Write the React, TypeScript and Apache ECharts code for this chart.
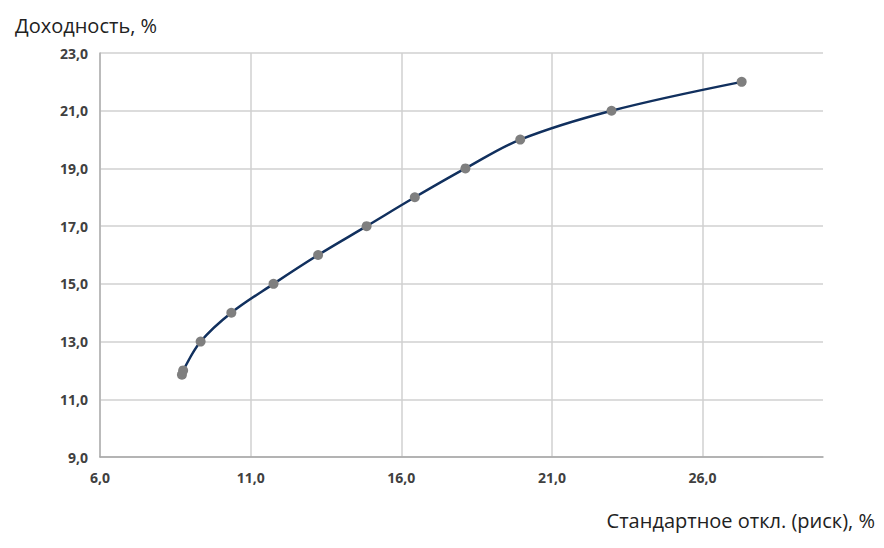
import React, { useEffect, useRef } from "react";
import * as echarts from "echarts";

const riskValues = [8.72, 8.76, 9.34, 10.36, 11.76, 13.24, 14.85, 16.45, 18.13, 19.95, 22.98, 27.3];
const returnValues = [11.85, 12.0, 13.0, 14.0, 15.0, 16.0, 17.0, 18.0, 19.0, 20.0, 21.0, 22.0];
const yAxisTitle = "Доходность, %";
const xAxisTitle = "Стандартное откл. (риск), %";

export default function App() {
  const ref = useRef<HTMLDivElement>(null);
  useEffect(() => {
    if (!ref.current) return;
    const chart = echarts.init(ref.current, null, { renderer: "svg" });
    const fmt = (v: number) => v.toFixed(1).replace(".", ",");
    chart.setOption({
      animation: false,
      backgroundColor: "#ffffff",
      grid: { left: 92, right: 53, top: 45, bottom: 83 },
      xAxis: {
        type: "value",
        min: 6,
        max: 30,
        interval: 5,
        axisLine: { show: true, lineStyle: { color: "#a6a6a6", width: 1.5 } },
        axisTick: { show: false },
        splitLine: { show: true, showMaxLine: false, lineStyle: { color: "#d0d0d0", width: 1.5 } },
        axisLabel: {
          showMaxLabel: false,
          formatter: (v: number) => (v > 29 ? "" : fmt(v)),
          color: "#404040",
          fontFamily: "Open Sans",
          fontWeight: "bold",
          fontSize: 14,
          margin: 13,
        },
      },
      yAxis: {
        type: "value",
        min: 9,
        max: 23,
        interval: 2,
        axisLine: { show: true, lineStyle: { color: "#b0b0b0", width: 1.5 } },
        axisTick: { show: false },
        splitLine: { show: true, lineStyle: { color: "#d0d0d0", width: 1.5 } },
        axisLabel: {
          formatter: (v: number) => fmt(v),
          color: "#404040",
          fontFamily: "Open Sans",
          fontWeight: "bold",
          fontSize: 14,
          margin: 12,
        },
      },
      graphic: [
        {
          type: "text",
          left: 7,
          top: 7,
          style: { text: yAxisTitle, fill: "#222", font: "20px 'Open Sans'" },
        },
        {
          type: "text",
          right: 1,
          top: 502,
          style: { text: xAxisTitle, fill: "#222", font: "20px 'Open Sans'" },
        },
      ],
      series: [
        {
          type: "line",
          data: riskValues.map((x, i) => [x, returnValues[i]]),
          smooth: 0.35,
          symbol: "circle",
          symbolSize: 10,
          lineStyle: { color: "#11305e", width: 2.5 },
          itemStyle: { color: "#7f7f7f" },
        },
      ],
    });
    return () => chart.dispose();
  }, []);
  return <div ref={ref} style={{ width: 868, height: 532 }} />;
}
